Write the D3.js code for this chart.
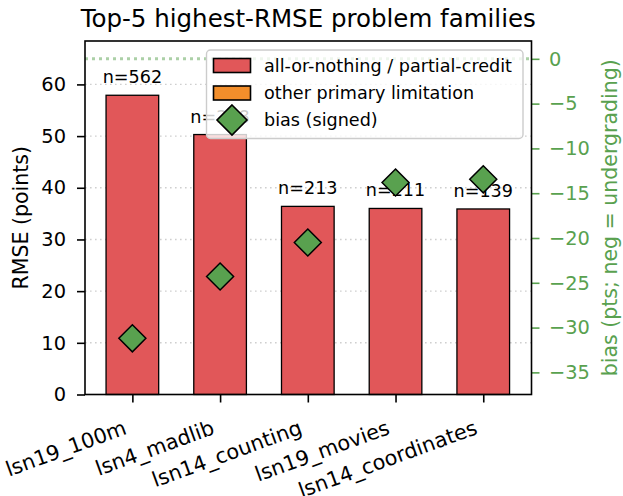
<!DOCTYPE html>
<html>
<head>
<meta charset="utf-8">
<script src="https://cdn.jsdelivr.net/npm/d3@7"></script>
<style>
  html, body { margin: 0; padding: 0; background: #fff; }
  svg { display: block; font-family: "DejaVu Sans", sans-serif; }
</style>
</head>
<body>
<svg id="chart" width="623" height="496"></svg>
<script>
// Problem families ranked by RMSE (top five)
const families = ["lsn19_100m", "lsn4_madlib", "lsn14_counting", "lsn19_movies", "lsn14_coordinates"];
const rmse = [57.9, 50.3, 36.4, 36.0, 35.9];
const bias = [-31.2, -24.3, -20.5, -13.8, -13.45];
const counts = [562, 228, 213, 211, 139];
const leftTicks = [0, 10, 20, 30, 40, 50, 60];
const rightTicks = [0, -5, -10, -15, -20, -25, -30, -35];
const legendLabels = ["all-or-nothing / partial-credit", "other primary limitation", "bias (signed)"];

const RED = "#e15759", ORANGE = "#f28e2b", GREEN = "#59a14f";
const FS = 17.6;      // annotations and legend
const FS_TICK = 19.4; // y tick labels
const FS_XTICK = 20.8; // category labels
const FS_AX = 20.5;   // axis titles
const FS_TITLE = 24.5;

const svg = d3.select("#chart");
const L = 85, R = 531.5, T = 41, B = 394.5;

const x = d3.scaleLinear().domain([-0.54, 4.55]).range([L, R]);
const yL = d3.scaleLinear().domain([0, 68.4]).range([B, T]);
const yR = d3.scaleLinear().domain([-37.47, 1.99]).range([B, T]);

// horizontal grid on the RMSE axis
svg.append("g").selectAll("line").data(leftTicks.filter(d => d > 0)).join("line")
  .attr("x1", L).attr("x2", R)
  .attr("y1", d => yL(d)).attr("y2", d => yL(d))
  .attr("stroke", "#cfcfcf").attr("stroke-width", 1.4)
  .attr("stroke-dasharray", "1.6,3.4");

// RMSE bars
svg.append("g").selectAll("rect").data(rmse).join("rect")
  .attr("x", (d, i) => x(i - 0.3))
  .attr("width", (d, i) => x(i + 0.3) - x(i - 0.3))
  .attr("y", d => yL(d))
  .attr("height", d => yL(0) - yL(d))
  .attr("fill", RED).attr("stroke", "#000").attr("stroke-width", 1.3);

// sample-size labels above bars
svg.append("g").selectAll("text").data(rmse).join("text")
  .attr("x", (d, i) => x(i))
  .attr("y", d => yL(d) - 12)
  .attr("text-anchor", "middle")
  .attr("font-size", FS)
  .attr("fill", "#000")
  .text((d, i) => "n=" + counts[i]);

// zero-bias reference line
svg.append("line")
  .attr("x1", L).attr("x2", R)
  .attr("y1", yR(0)).attr("y2", yR(0))
  .attr("stroke", GREEN).attr("stroke-opacity", 0.5)
  .attr("stroke-width", 3).attr("stroke-dasharray", "3,4");

// signed bias markers
const diamond = s => `M0,${-s}L${s},0L0,${s}L${-s},0Z`;
svg.append("g").selectAll("path").data(bias).join("path")
  .attr("transform", (d, i) => `translate(${x(i)},${yR(d)})`)
  .attr("d", diamond(13.5))
  .attr("fill", GREEN).attr("stroke", "#000").attr("stroke-width", 1.5);

// axes
const axL = svg.append("g").attr("transform", `translate(${L},0)`)
  .call(d3.axisLeft(yL).tickValues(leftTicks).tickSize(8).tickPadding(11).tickFormat(d3.format("d")));
axL.select(".domain").remove();
axL.selectAll(".tick line").attr("stroke", "#000").attr("stroke-width", 1.6);
axL.selectAll("text").attr("font-size", FS_TICK).attr("font-family", "DejaVu Sans").attr("fill", "#000");

const fmtR = d => (d < 0 ? "\u2212" + Math.abs(d) : String(d));
const axR = svg.append("g").attr("transform", `translate(${R},0)`)
  .call(d3.axisRight(yR).tickValues(rightTicks).tickSize(8).tickPadding(9.5).tickFormat(fmtR));
axR.select(".domain").remove();
axR.selectAll(".tick line").attr("stroke", GREEN).attr("stroke-width", 1.6);
axR.selectAll("text").attr("font-size", FS_TICK).attr("font-family", "DejaVu Sans").attr("fill", GREEN);

const axB = svg.append("g").attr("transform", `translate(0,${B})`)
  .call(d3.axisBottom(x).tickValues(d3.range(families.length)).tickSize(8).tickFormat(i => families[i]));
axB.select(".domain").remove();
axB.selectAll(".tick line").attr("stroke", "#000").attr("stroke-width", 1.6);
axB.selectAll("text")
  .attr("font-size", FS_XTICK).attr("font-family", "DejaVu Sans").attr("fill", "#000")
  .attr("text-anchor", "end")
  .attr("dy", null)
  .attr("y", 0)
  .attr("transform", "translate(-5,39) rotate(-20)");

// frame
svg.append("rect").attr("x", L).attr("y", T).attr("width", R - L).attr("height", B - T)
  .attr("fill", "none").attr("stroke", "#000").attr("stroke-width", 1.6);

// legend
const lg = svg.append("g");
lg.append("rect").attr("x", 206.5).attr("y", 50).attr("width", 316.5).attr("height", 88.5)
  .attr("rx", 4).attr("fill", "#fff").attr("fill-opacity", 0.8)
  .attr("stroke", "#cccccc").attr("stroke-width", 1.4);
const rowY = [65.5, 93, 120];
[RED, ORANGE].forEach((c, i) => {
  lg.append("rect").attr("x", 213.5).attr("y", rowY[i] - 7).attr("width", 37).attr("height", 14)
    .attr("fill", c).attr("stroke", "#000").attr("stroke-width", 1.6);
});
lg.append("path").attr("transform", `translate(232,${rowY[2]})`).attr("d", diamond(15))
  .attr("fill", GREEN).attr("stroke", "#000").attr("stroke-width", 1.6);
lg.selectAll("text.lab").data(legendLabels).join("text").attr("class", "lab")
  .attr("x", 264).attr("y", (d, i) => rowY[i] + 6.2)
  .attr("font-size", FS).attr("fill", "#000").text(d => d);

// titles
svg.append("text").attr("x", (L + R) / 2).attr("y", 27).attr("text-anchor", "middle")
  .attr("font-size", FS_TITLE).attr("fill", "#000").text("Top-5 highest-RMSE problem families");
svg.append("text").attr("transform", `translate(28,${(T + B) / 2}) rotate(-90)`)
  .attr("text-anchor", "middle").attr("font-size", FS_AX).attr("fill", "#000").text("RMSE (points)");
svg.append("text").attr("transform", `translate(617,${(T + B) / 2}) rotate(-90)`)
  .attr("text-anchor", "middle").attr("font-size", FS_AX).attr("fill", GREEN)
  .text("bias (pts; neg = undergrading)");
</script>
</body>
</html>
